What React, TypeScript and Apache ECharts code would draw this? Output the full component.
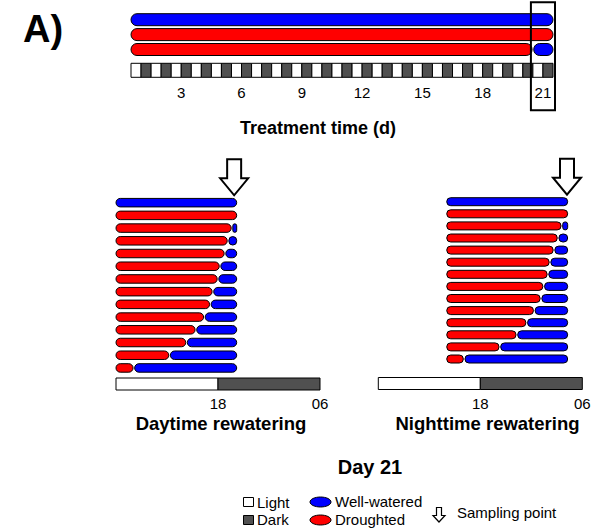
import React, { useEffect, useRef } from "react";
import * as echarts from "echarts";

const FONT = '"Liberation Sans", Arial, Helvetica, sans-serif';
const BLUE = "#0000ff";
const RED = "#ff0000";
const DARK = "#505050";

// ---- Top panel: 21-day treatment ----
const dayCategories = ["1", "2", "3", "4", "5", "6", "7", "8", "9", "10", "11", "12", "13", "14", "15", "16", "17", "18", "19", "20", "21"];
const photoperiod = ["Light", "Dark"];
const topRows = ["Well-watered", "Droughted", "Droughted then rewatered"];
const topStartDay = 0;
const topEndDay = 21;
const topDroughtEnd = [0, 21, 20]; // day on which drought ends (start = never droughted)
const highlightDay = "21";

// ---- Day 21 panels (hours since 06:00) ----
const clockStart = [0, 12];
const clockEnd = [12, 24];
const clockTickLabels: Record<number, string> = { 0: "", 12: "18", 24: "06" };
const rowNames = ["WW", "D", "R1", "R2", "R3", "R4", "R5", "R6", "R7", "R8", "R9", "R10", "R11", "R12"];

const dayStart = 0;
const dayEnd = 14.2;
const daySampling = 13.9;
const dayDroughtEnd = [0, 14.2, 13.65, 13.18, 12.82, 12.24, 12.0, 11.4, 11.1, 10.4, 9.4, 8.3, 6.3, 2.1];

const nightStart = 8.05;
const nightEnd = 22.28;
const nightSampling = 22.2;
const nightDroughtEnd = [8.05, 22.28, 21.6, 21.15, 20.67, 20.2, 19.96, 19.46, 19.14, 18.35, 17.46, 16.3, 14.3, 10.1];

const GAP = 0.8;

function buildSegments(start: number, end: number, droughtEnds: number[]) {
  const segs: number[][] = [];
  droughtEnds.forEach((d, i) => {
    const hasRed = d > start;
    const hasBlue = d < end;
    if (hasRed) segs.push([i, start, d, 0, 0, hasBlue ? GAP : 0]);
    if (hasBlue) segs.push([i, d, end, 1, hasRed ? GAP : 0, 0]);
  });
  return segs;
}

function capsule(h: number) {
  return (params: any, api: any) => {
    const row = api.value(0);
    const p0 = api.coord([api.value(1), row]);
    const p1 = api.coord([api.value(2), row]);
    const x0 = p0[0] + api.value(4);
    const x1 = p1[0] - api.value(5);
    const w = Math.max(x1 - x0, 1);
    return {
      type: "rect",
      shape: { x: x0, y: p0[1] - h / 2, width: w, height: h, r: Math.min(h / 2, w / 2) },
      style: { fill: api.value(3) === 1 ? BLUE : RED, stroke: "#000", lineWidth: 1 },
    };
  };
}

const clockRender = (params: any, api: any) => {
  const a = api.coord([api.value(0), 0]);
  const b = api.coord([api.value(1), 0]);
  const cs = params.coordSys;
  return {
    type: "rect",
    shape: { x: a[0], y: cs.y, width: b[0] - a[0], height: cs.height },
    style: { fill: api.value(2) === 1 ? DARK : "#fff", stroke: "#000", lineWidth: 1 },
  };
};

const stripRender = (params: any, api: any) => {
  const idx = api.value(0);
  const half = api.value(1);
  const c = api.coord([idx, 0]);
  const bw = api.size([1, 0])[0];
  const cs = params.coordSys;
  return {
    type: "rect",
    shape: { x: c[0] - bw / 2 + (half * bw) / 2, y: cs.y, width: bw / 2, height: cs.height },
    style: { fill: half === 1 ? DARK : "#fff", stroke: "#000", lineWidth: 1 },
  };
};

const boxRender = (params: any, api: any) => {
  const c = api.coord([api.value(0), 0]);
  const bw = api.size([1, 0])[0];
  const cs = params.coordSys;
  return {
    type: "rect",
    shape: { x: c[0] - bw / 2 - 2, y: cs.y - 61, width: bw + 4, height: cs.height + 94 },
    style: { fill: "none", stroke: "#000", lineWidth: 2 },
    z2: 10,
  };
};

const arrowRender = (params: any, api: any) => {
  const cx = api.coord([api.value(0), 0])[0];
  const ty = params.coordSys.y - 1;
  const top = ty - 36;
  const hs = ty - 17;
  return {
    type: "polygon",
    shape: {
      points: [[cx - 7, top], [cx + 7, top], [cx + 7, hs], [cx + 14, hs], [cx, ty], [cx - 14, hs], [cx - 7, hs]],
    },
    style: { fill: "#fff", stroke: "#000", lineWidth: 2 },
  };
};

const txt = (text: string, x: number, y: number, size: number, bold: boolean, align = "center") => ({
  type: "text",
  style: {
    text,
    x,
    y,
    fontSize: size,
    fontWeight: bold ? "bold" : "normal",
    fontFamily: FONT,
    fill: "#000",
    align,
    verticalAlign: "middle",
  },
});

export default function App() {
  const ref = useRef<HTMLDivElement>(null);
  useEffect(() => {
    if (!ref.current) return;
    const chart = echarts.init(ref.current, undefined, { renderer: "svg" });
    const hidden = { show: false };
    const clockAxis = (grid: number) => ({
      type: "value",
      gridIndex: grid,
      min: 0,
      max: 24,
      interval: 12,
      axisLine: { show: false },
      axisTick: { show: false },
      splitLine: { show: false },
      axisLabel: {
        margin: 6,
        fontSize: 15,
        fontFamily: FONT,
        color: "#000",
        formatter: (v: number) => clockTickLabels[v] ?? "",
      },
    });
    chart.setOption({
      animation: false,
      backgroundColor: "#fff",
      grid: [
        { left: 131, top: 12.25, width: 422, height: 44.7 },
        { left: 131, top: 63.3, width: 422, height: 14 },
        { left: 116, top: 196.3, width: 204, height: 178 },
        { left: 116, top: 378, width: 204, height: 12 },
        { left: 378.3, top: 195.65, width: 204, height: 169.4 },
        { left: 378.3, top: 377.5, width: 204, height: 12 },
      ],
      xAxis: [
        { type: "value", gridIndex: 0, min: topStartDay, max: topEndDay, ...hidden },
        {
          type: "category",
          gridIndex: 1,
          data: dayCategories,
          boundaryGap: true,
          axisLine: { show: false },
          axisTick: { show: false },
          axisLabel: {
            margin: 8,
            fontSize: 15,
            fontFamily: FONT,
            color: "#000",
            interval: (i: number) => (i + 1) % 3 === 0,
          },
        },
        { type: "value", gridIndex: 2, min: 0, max: 24, ...hidden },
        clockAxis(3),
        { type: "value", gridIndex: 4, min: 0, max: 24, ...hidden },
        clockAxis(5),
      ],
      yAxis: [
        { type: "category", gridIndex: 0, data: topRows, inverse: true, ...hidden },
        { type: "value", gridIndex: 1, min: 0, max: 1, ...hidden },
        { type: "category", gridIndex: 2, data: rowNames, inverse: true, ...hidden },
        { type: "value", gridIndex: 3, min: 0, max: 1, ...hidden },
        { type: "category", gridIndex: 4, data: rowNames, inverse: true, ...hidden },
        { type: "value", gridIndex: 5, min: 0, max: 1, ...hidden },
      ],
      series: [
        {
          type: "custom",
          xAxisIndex: 0,
          yAxisIndex: 0,
          renderItem: capsule(12),
          encode: { x: [1, 2], y: 0 },
          data: buildSegments(topStartDay, topEndDay, topDroughtEnd),
        },
        {
          type: "custom",
          xAxisIndex: 1,
          yAxisIndex: 1,
          renderItem: stripRender,
          encode: { x: 0, y: 1 },
          data: dayCategories.flatMap((_, i) => photoperiod.map((_, p) => [i, p])),
        },
        {
          type: "custom",
          xAxisIndex: 1,
          yAxisIndex: 1,
          renderItem: boxRender,
          encode: { x: 0 },
          z: 5,
          data: [[dayCategories.indexOf(highlightDay), 0]],
        },
        {
          type: "custom",
          xAxisIndex: 2,
          yAxisIndex: 2,
          renderItem: capsule(8.5),
          encode: { x: [1, 2], y: 0 },
          data: buildSegments(dayStart, dayEnd, dayDroughtEnd),
        },
        {
          type: "custom",
          xAxisIndex: 3,
          yAxisIndex: 3,
          renderItem: clockRender,
          encode: { x: [0, 1] },
          data: clockStart.map((s, i) => [s, clockEnd[i], i]),
        },
        {
          type: "custom",
          xAxisIndex: 2,
          yAxisIndex: 2,
          renderItem: arrowRender,
          encode: { x: 0, y: 1 },
          data: [[daySampling, 0]],
        },
        {
          type: "custom",
          xAxisIndex: 4,
          yAxisIndex: 4,
          renderItem: capsule(8),
          encode: { x: [1, 2], y: 0 },
          data: buildSegments(nightStart, nightEnd, nightDroughtEnd),
        },
        {
          type: "custom",
          xAxisIndex: 5,
          yAxisIndex: 5,
          renderItem: clockRender,
          encode: { x: [0, 1] },
          data: clockStart.map((s, i) => [s, clockEnd[i], i]),
        },
        {
          type: "custom",
          xAxisIndex: 4,
          yAxisIndex: 4,
          renderItem: arrowRender,
          encode: { x: 0, y: 1 },
          data: [[nightSampling, 0]],
        },
      ],
      graphic: [
        txt("A)", 23, 29, 38, true, "left"),
        txt("Treatment time (d)", 318, 128, 18, true),
        txt("Daytime rewatering", 221, 423, 18.5, true),
        txt("Nighttime rewatering", 487.5, 423, 18.5, true),
        txt("Day 21", 370, 467, 20, true),
        { type: "rect", shape: { x: 243.5, y: 497.5, width: 10, height: 9 }, style: { fill: "#fff", stroke: "#000", lineWidth: 1 } },
        { type: "rect", shape: { x: 243.5, y: 515.5, width: 10, height: 9 }, style: { fill: DARK, stroke: "#000", lineWidth: 1 } },
        txt("Light", 257, 502, 15, false, "left"),
        txt("Dark", 257, 519.5, 15, false, "left"),
        { type: "ellipse", shape: { cx: 320.5, cy: 502, rx: 10.5, ry: 5 }, style: { fill: BLUE, stroke: "#000", lineWidth: 1 } },
        { type: "ellipse", shape: { cx: 320.5, cy: 520, rx: 10.5, ry: 5 }, style: { fill: RED, stroke: "#000", lineWidth: 1 } },
        txt("Well-watered", 335, 501.5, 15, false, "left"),
        txt("Droughted", 335, 519.5, 15, false, "left"),
        {
          type: "polygon",
          shape: {
            points: [[436.5, 507.5], [441.5, 507.5], [441.5, 515.5], [445, 515.5], [439, 522], [433, 515.5], [436.5, 515.5]],
          },
          style: { fill: "#fff", stroke: "#000", lineWidth: 1.2 },
        },
        txt("Sampling point", 457, 512, 15, false, "left"),
      ],
    });
    return () => chart.dispose();
  }, []);
  return <div ref={ref} style={{ position: "fixed", left: 0, top: 0, width: 595, height: 528 }} />;
}
